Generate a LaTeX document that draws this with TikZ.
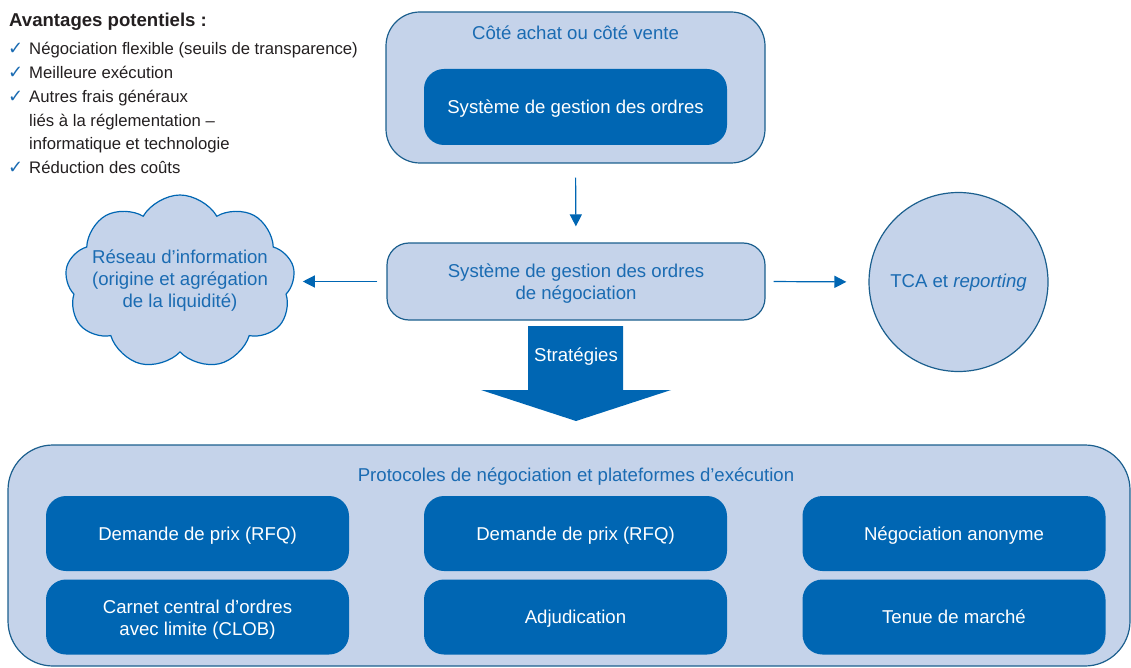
\documentclass[tikz,border=0pt]{standalone}
\usepackage{fontspec}
\setmainfont{Liberation Sans}
\newfontfamily\djv{DejaVu Sans}
\usetikzlibrary{arrows.meta,shapes.symbols}
\definecolor{lightfill}{HTML}{C5D3EA}
\definecolor{edgeblue}{HTML}{1B5F8E}
\definecolor{darkblue}{HTML}{0066B3}
\definecolor{textblue}{HTML}{1A6BB2}
\definecolor{txt}{HTML}{231F20}
\begin{document}
\begin{tikzpicture}[x=1pt,y=-1pt,
  mainfont/.style={font=\fontsize{18.6}{22}\selectfont},
  listfont/.style={font=\fontsize{16.7}{23}\selectfont},
  outerbox/.style={draw=edgeblue, fill=lightfill, line width=1.2pt, inner sep=0pt},
  innerbox/.style={fill=darkblue, rounded corners=20pt, inner sep=0pt,
    minimum width=303pt, minimum height=75pt},
  wtext/.style={text=white, align=center, inner sep=0pt, mainfont},
  wline/.style={text=white, inner sep=0pt, anchor=base, mainfont},
  bluetext/.style={text=textblue, align=center, inner sep=0pt, mainfont},
  arr/.style={draw=darkblue, line width=1.2pt, -{Triangle[length=12pt,width=12pt]}},
  chk/.style={text=textblue, anchor=base west, inner sep=0pt, font=\djv\fontsize{18}{18}\selectfont},
  item/.style={text=txt, anchor=base west, inner sep=0pt, align=left, listfont}
]
\useasboundingbox (0,0) rectangle (1131,668);

% ---- list ----
\node[item, font=\bfseries\fontsize{18.6}{20}\selectfont] (title) at (9,27) {Avantages potentiels~:};
\node[chk] (c1) at (8,55) {✓};
\node[item] (i1) at (29,55) {Négociation flexible (seuils de transparence)};
\node[chk] (c2) at (8,79) {✓};
\node[item] (i2) at (29,79) {Meilleure exécution};
\node[chk] (c3) at (8,103) {✓};
\node[item] (i3) at (29,103) {Autres frais généraux};
\node[item] (i3b) at (29,126.5) {liés à la réglementation –};
\node[item] (i3c) at (29,149.5) {informatique et technologie};
\node[chk] (c4) at (8,174) {✓};
\node[item] (i4) at (29,174) {Réduction des coûts};

% ---- top box ----
\node[outerbox, rounded corners=34pt, minimum width=379pt, minimum height=151pt] (top) at (575.5,87.5) {};
\node[bluetext, anchor=base] (toptitle) at (575.5,40) {Côté achat ou côté vente};
\node[innerbox, minimum height=76pt] (oms) at (575.5,107) {};
\node[wline] (omst) at ([yshift=-6.7pt]oms.center) {Système de gestion des ordres};

% ---- middle box ----
\node[outerbox, rounded corners=22pt, minimum width=378pt, minimum height=77pt] (mid) at (576,281.5) {};
\node[bluetext] (midt) at ([yshift=-2.5pt]mid.center) {Système de gestion des ordres\\de négociation};

% ---- cloud ----
\node[cloud, cloud puffs=9, cloud puff arc=120, aspect=1.35, draw=darkblue, fill=lightfill,
      line width=1.2pt, minimum width=230pt, minimum height=174pt, inner sep=0pt] (cloud) at (180,282) {};
\node[bluetext] (cloudtext) at (180,281) {Réseau d’information\\(origine et agrégation\\de la liquidité)};

% ---- circle ----
\node[circle, draw=edgeblue, fill=lightfill, line width=1.2pt, minimum size=179pt, inner sep=0pt] (tca) at (958.5,282) {};
\node[bluetext, anchor=base] (tcat) at ([yshift=-5pt]tca.center) {TCA et \textit{reporting}};

% ---- arrows ----
\draw[arr, shorten <=14pt, shorten >=16pt] (top.south) -- (mid.north);
\draw[arr, shorten <=9pt, shorten >=9pt] (mid.west) -- (cloud.east |- mid.west);
\draw[arr, shorten <=8pt, shorten >=22pt] (mid.east) -- (tca.west);

% ---- big arrow ----
\fill[darkblue] (528,326) -- (623,326) -- (623,390) -- (671,390) -- (576,421) -- (481,390) -- (528,390) -- cycle;
\node[wline] (strat) at (576,361.5) {Stratégies};

% ---- bottom box ----
\node[outerbox, rounded corners=45pt, minimum width=1122pt, minimum height=221pt] (bottom) at (569,555.5) {};
\node[bluetext, anchor=base] (bottitle) at (576,481) {Protocoles de négociation et plateformes d'exécution};
\node[innerbox] (b1) at (197.5,533.5) {};
\node[innerbox] (b2) at (575.5,533.5) {};
\node[innerbox] (b3) at (954,533.5) {};
\node[innerbox] (b4) at (197.5,617) {};
\node[innerbox] (b5) at (575.5,617) {};
\node[innerbox] (b6) at (954,617) {};
\node[wline] (b1t) at ([yshift=-6.5pt]b1.center) {Demande de prix (RFQ)};
\node[wline] (b2t) at ([yshift=-6.5pt]b2.center) {Demande de prix (RFQ)};
\node[wline] (b3t) at ([yshift=-6.5pt]b3.center) {Négociation anonyme};
\node[wtext] (b4t) at ([yshift=-2.5pt]b4.center) {Carnet central d’ordres\\avec limite (CLOB)};
\node[wline] (b5t) at ([yshift=-6.5pt]b5.center) {Adjudication};
\node[wline] (b6t) at ([yshift=-6.5pt]b6.center) {Tenue de marché};
\end{tikzpicture}
\end{document}
